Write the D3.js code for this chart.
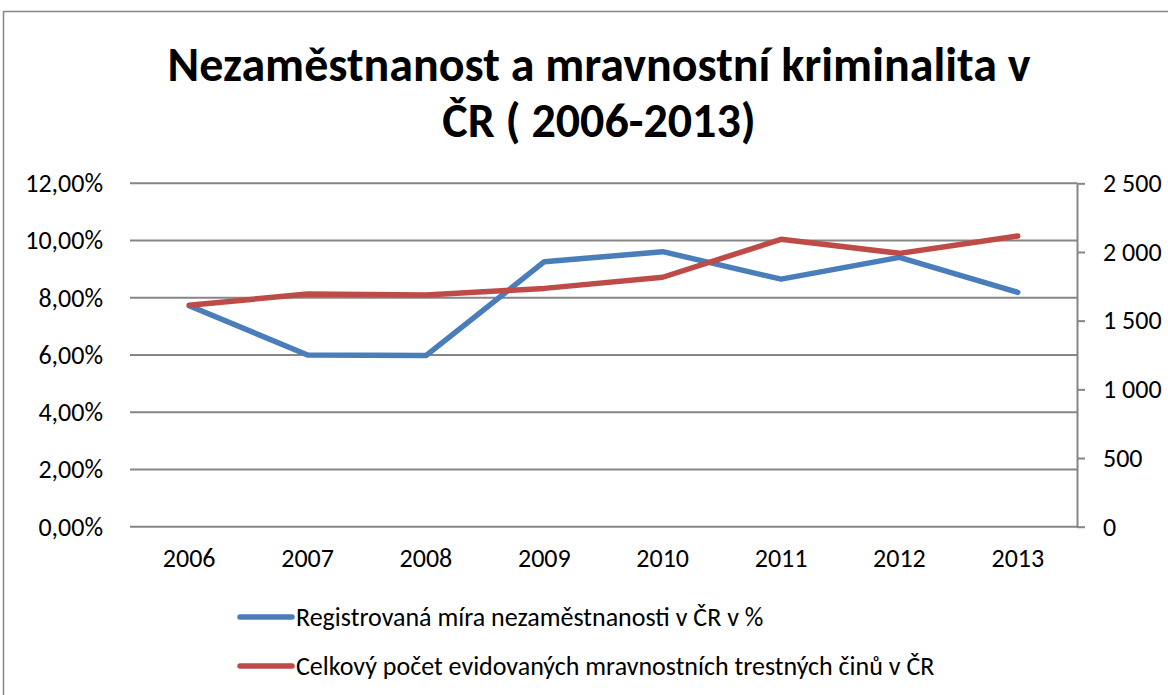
<!DOCTYPE html>
<html>
<head>
<meta charset="utf-8">
<script src="https://cdn.jsdelivr.net/npm/d3@7"></script>
<style>
  body { margin: 0; background: #fff; }
  svg { display: block; font-family: Carlito, Calibri, "Open Sans", sans-serif; }
</style>
</head>
<body>
<svg id="chart"></svg>
<script>
const width = 1168;
const height = 695;

// data
const years = ["2006", "2007", "2008", "2009", "2010", "2011", "2012", "2013"];
const unemployment = [0.0772, 0.0600, 0.0598, 0.0926, 0.0961, 0.0865, 0.0941, 0.0819];
const crimes = [1612, 1694, 1687, 1735, 1816, 2092, 1990, 2116];
const leftTicks = [0, 0.02, 0.04, 0.06, 0.08, 0.10, 0.12];
const rightTicks = [0, 500, 1000, 1500, 2000, 2500];
const seriesNames = [
    "Registrovaná míra nezaměstnanosti v ČR v %",
    "Celkový počet evidovaných mravnostních trestných činů v ČR"
];
const titleLines = ["Nezaměstnanost a mravnostní kriminalita v", "ČR ( 2006-2013)"];

const blue = "#4a7ebb";
const red = "#be4b48";
const grey = "#868686";

const plot = { left: 130, right: 1077, top: 183.3, bottom: 526.7 };

const cz = d3.formatLocale({ decimal: ",", thousands: " ", grouping: [3], currency: ["", " Kč"] });
const fmtPct = cz.format(".2%");
const fmtNum = cz.format(",d");

const svg = d3.select("#chart")
    .attr("width", width)
    .attr("height", height);

// chart border
svg.append("rect")
    .attr("x", 3.5).attr("y", 11.5)
    .attr("width", width + 10).attr("height", height + 10)
    .attr("fill", "none")
    .attr("stroke", grey)
    .attr("stroke-width", 1.5);

// title
svg.append("g").selectAll("text")
    .data(titleLines)
    .enter().append("text")
    .attr("x", 599)
    .attr("y", (d, i) => 81 + i * 56)
    .attr("text-anchor", "middle")
    .attr("font-size", 48)
    .attr("font-weight", "bold")
    .attr("fill", "#000")
    .text(d => d);

const x = d3.scaleBand().domain(years).range([plot.left, plot.right]);
const yLeft = d3.scaleLinear().domain([0, 0.12]).range([plot.bottom, plot.top]);
const yRight = d3.scaleLinear().domain([0, 2500]).range([plot.bottom, plot.top]);

// gridlines
svg.append("g").selectAll("line")
    .data(leftTicks)
    .enter().append("line")
    .attr("x1", plot.left).attr("x2", plot.right)
    .attr("y1", d => yLeft(d)).attr("y2", d => yLeft(d))
    .attr("stroke", grey)
    .attr("stroke-width", 2);

// left axis labels
const leftAxis = svg.append("g")
    .attr("transform", `translate(${plot.left},0)`)
    .call(d3.axisLeft(yLeft).tickValues(leftTicks).tickFormat(fmtPct).tickSize(0).tickPadding(27));
leftAxis.select(".domain").remove();

// right axis
const rightAxis = svg.append("g")
    .attr("transform", `translate(${plot.right},0)`)
    .call(d3.axisRight(yRight).tickValues(rightTicks).tickFormat(fmtNum).tickSize(8).tickPadding(18).tickSizeOuter(0));
rightAxis.select(".domain").attr("stroke", grey).attr("stroke-width", 2);
rightAxis.selectAll(".tick line").attr("stroke", grey).attr("stroke-width", 2);

// bottom axis labels
const bottomAxis = svg.append("g")
    .attr("transform", `translate(0,${plot.bottom})`)
    .call(d3.axisBottom(x).tickSize(0).tickPadding(22));
bottomAxis.select(".domain").remove();

[leftAxis, rightAxis, bottomAxis].forEach(a => a.attr("font-family", null).attr("font-size", null));
svg.selectAll(".tick text")
    .attr("font-size", 26)
    .attr("fill", "#000");

// lines
const lineLeft = d3.line()
    .x((d, i) => x(years[i]) + x.bandwidth() / 2)
    .y(d => yLeft(d));
const lineRight = d3.line()
    .x((d, i) => x(years[i]) + x.bandwidth() / 2)
    .y(d => yRight(d));

svg.append("path")
    .datum(unemployment)
    .attr("d", lineLeft)
    .attr("fill", "none")
    .attr("stroke", blue)
    .attr("stroke-width", 5.5)
    .attr("stroke-linejoin", "round")
    .attr("stroke-linecap", "round");

svg.append("path")
    .datum(crimes)
    .attr("d", lineRight)
    .attr("fill", "none")
    .attr("stroke", red)
    .attr("stroke-width", 5.5)
    .attr("stroke-linejoin", "round")
    .attr("stroke-linecap", "round");

// legend
const legend = svg.append("g").selectAll("g")
    .data(seriesNames)
    .enter().append("g")
    .attr("transform", (d, i) => `translate(240,${617 + i * 49})`);

legend.append("line")
    .attr("x1", 0).attr("x2", 52)
    .attr("stroke", (d, i) => i === 0 ? blue : red)
    .attr("stroke-width", 5.5)
    .attr("stroke-linecap", "round");

legend.append("text")
    .attr("x", 56)
    .attr("dy", "0.35em")
    .attr("font-size", 26)
    .attr("fill", "#000")
    .text(d => d);
</script>
</body>
</html>
